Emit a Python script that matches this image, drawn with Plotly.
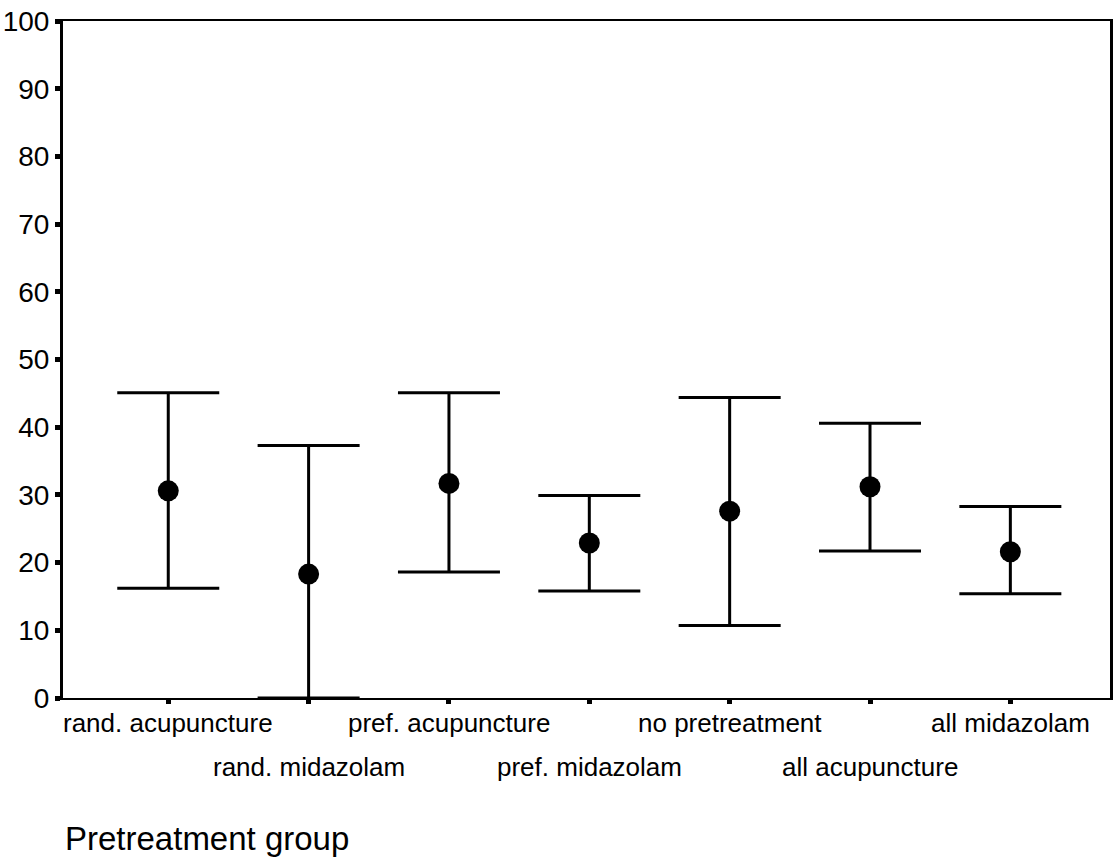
import plotly.graph_objects as go

categories = ["rand. acupuncture", "rand. midazolam", "pref. acupuncture",
              "pref. midazolam", "no pretreatment", "all acupuncture", "all midazolam"]
means = [30.6, 18.3, 31.7, 22.9, 27.6, 31.2, 21.6]
upper = [45.1, 37.3, 45.1, 29.9, 44.4, 40.6, 28.3]
lower = [16.2, 0.0, 18.6, 15.8, 10.7, 21.7, 15.4]
y_ticks = [0, 10, 20, 30, 40, 50, 60, 70, 80, 90, 100]
x_title = "Pretreatment group"

FONT = "Liberation Sans, Arial, sans-serif"
xs = list(range(len(categories)))
err_plus = [u - m for u, m in zip(upper, means)]
err_minus = [m - l for m, l in zip(means, lower)]

fig = go.Figure()
fig.add_trace(go.Scatter(
    x=xs, y=means, mode="markers",
    marker=dict(size=21, color="black"),
    error_y=dict(type="data", symmetric=False, array=err_plus, arrayminus=err_minus,
                 color="black", thickness=3, width=51),
    cliponaxis=False, showlegend=False,
))

annotations = []
for i, c in enumerate(categories):
    shift = -25 if i % 2 == 0 else -69
    annotations.append(dict(x=i, xref="x", y=0, yref="paper", text=c, showarrow=False,
                            xanchor="center", yanchor="middle", yshift=shift,
                            font=dict(family=FONT, size=26, color="black")))
annotations.append(dict(x=0, xref="paper", y=0, yref="paper", text=x_title, showarrow=False,
                        xanchor="left", yanchor="middle", yshift=-140,
                        font=dict(family=FONT, size=33, color="black")))

fig.update_layout(
    width=1114, height=865,
    margin=dict(l=63, r=4, t=21, b=167, autoexpand=False),
    paper_bgcolor="white", plot_bgcolor="white",
    annotations=annotations,
    xaxis=dict(range=[-0.75, 6.71], tickvals=xs, ticktext=[""] * len(xs),
               automargin=False,
               showgrid=False, zeroline=False, showline=True, linecolor="black",
               linewidth=2, mirror=True, ticks="outside", ticklen=4, tickwidth=5,
               tickcolor="black"),
    yaxis=dict(range=[0, 100], tickvals=y_ticks, showgrid=False, zeroline=False,
               automargin=False,
               showline=True, linecolor="black", linewidth=3, mirror=True,
               ticks="outside", ticklen=5, tickwidth=5, tickcolor="black",
               tickfont=dict(family=FONT, size=28, color="black")),
)

fig.write_html("out.html", config={"displayModeBar": False},
               post_script="document.body.style.margin='0';")
